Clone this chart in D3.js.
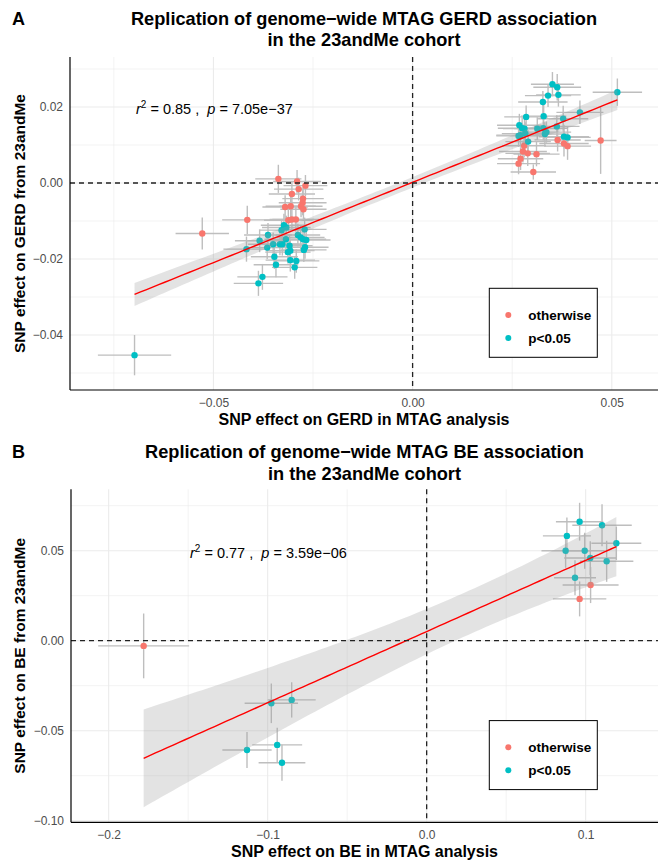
<!DOCTYPE html>
<html>
<head>
<meta charset="utf-8">
<script src="https://cdn.jsdelivr.net/npm/d3@7"></script>
<style>
  body { margin: 0; background: #fff; }
  svg { font-family: "Liberation Sans", Arial, Helvetica, sans-serif; }
  .stat { white-space: pre; }
</style>
</head>
<body>
<svg width="660" height="860"></svg>
<script>
// ---- panel A: GERD ----
// sig: 1 = p<0.05, 0 = otherwise
const gerdX = [
  -0.0337, -0.0290, -0.0269, -0.0286, -0.0303, -0.0275, -0.0276, -0.0320, -0.0306, -0.0280,
  -0.0274, -0.0415, -0.0528, -0.0312, -0.0303, -0.0293, 0.0364, 0.0472, 0.0280, 0.0277,
  0.0289, 0.0311, 0.0380, 0.0389, 0.0271, 0.0266, 0.0303,
  0.0351, 0.0363, 0.0340, 0.0366, 0.0327, 0.0329, 0.0285, 0.0514, 0.0420, 0.0378,
  0.0268, 0.0275, 0.0281, 0.0313, 0.0328, 0.0362, 0.0336, 0.0332, 0.0283, 0.0266,
  0.0271, 0.0290, 0.0380, 0.0389,
  -0.0323, -0.0317, -0.0329, -0.0363, -0.0384, -0.0417, -0.0365, -0.0350, -0.0333, -0.0327,
  -0.0318, -0.0309, -0.0307, -0.0313, -0.0347, -0.0343, -0.0307, -0.0292, -0.0296, -0.0377,
  -0.0387, -0.0288, -0.0281, -0.0275, -0.0267, -0.0271, -0.0270, -0.0273, -0.0698
];
const gerdY = [
  0.0011, 0.0004, -0.0007, -0.0016, -0.0029, -0.0041, -0.0052, -0.0063, -0.0061, -0.0061,
  -0.0069, -0.0097, -0.0133, -0.0098, -0.0096, -0.0096, 0.0113, 0.0112, 0.0098, 0.0083,
  0.0078, 0.0076, 0.0104, 0.0097, 0.0064, 0.0051, 0.0029,
  0.0260, 0.0252, 0.0230, 0.0232, 0.0213, 0.0176, 0.0174, 0.0239, 0.0186, 0.0169,
  0.0152, 0.0144, 0.0143, 0.0143, 0.0144, 0.0149, 0.0134, 0.0129, 0.0130, 0.0124,
  0.0126, 0.0109, 0.0122, 0.0120,
  -0.0111, -0.0117, -0.0124, -0.0137, -0.0152, -0.0174, -0.0170, -0.0161, -0.0161, -0.0161,
  -0.0148, -0.0165, -0.0178, -0.0182, -0.0194, -0.0215, -0.0203, -0.0205, -0.0222, -0.0247,
  -0.0264, -0.0137, -0.0143, -0.0148, -0.0150, -0.0122, -0.0169, -0.0176, -0.0453
];
const gerdXerr = [
  0.0058, 0.0060, 0.0055, 0.0062, 0.0058, 0.0052, 0.0060, 0.0057, 0.0063, 0.0054,
  0.0058, 0.0063, 0.0067, 0.0061, 0.0056, 0.0059, 0.0058, 0.0040, 0.0055, 0.0060,
  0.0056, 0.0058, 0.0062, 0.0059, 0.0057, 0.0054, 0.0057,
  0.0054, 0.0060, 0.0058, 0.0056, 0.0062, 0.0057, 0.0055, 0.0062, 0.0059, 0.0063,
  0.0056, 0.0061, 0.0054, 0.0058, 0.0060, 0.0057, 0.0062, 0.0055, 0.0059, 0.0056,
  0.0061, 0.0057, 0.0063, 0.0058,
  0.0058, 0.0061, 0.0055, 0.0060, 0.0062, 0.0058, 0.0057, 0.0063, 0.0056, 0.0060,
  0.0054, 0.0058, 0.0061, 0.0057, 0.0059, 0.0056, 0.0062, 0.0058, 0.0057, 0.0063,
  0.0062, 0.0056, 0.0060, 0.0058, 0.0061, 0.0055, 0.0059, 0.0057, 0.0092
];
const gerdYerr = [
  0.0037, 0.0030, 0.0028, 0.0030, 0.0032, 0.0030, 0.0033, 0.0031, 0.0030, 0.0029,
  0.0031, 0.0037, 0.0042, 0.0030, 0.0028, 0.0032, 0.0030, 0.0088, 0.0031, 0.0029,
  0.0033, 0.0032, 0.0034, 0.0036, 0.0030, 0.0028, 0.0020,
  0.0032, 0.0035, 0.0030, 0.0031, 0.0029, 0.0033, 0.0030, 0.0036, 0.0031, 0.0034,
  0.0030, 0.0029, 0.0031, 0.0030, 0.0032, 0.0030, 0.0028, 0.0031, 0.0030, 0.0029,
  0.0032, 0.0030, 0.0031, 0.0030,
  0.0030, 0.0031, 0.0029, 0.0032, 0.0030, 0.0033, 0.0030, 0.0031, 0.0029, 0.0030,
  0.0032, 0.0030, 0.0031, 0.0030, 0.0032, 0.0033, 0.0030, 0.0031, 0.0030, 0.0034,
  0.0033, 0.0030, 0.0031, 0.0029, 0.0030, 0.0031, 0.0030, 0.0032, 0.0053
];
const gerdSig = [
  0, 0, 0, 0, 0, 0, 0, 0, 0, 0, 0, 0, 0, 0, 0, 0, 0, 0, 0, 0, 0, 0, 0, 0, 0, 0, 0,
  1, 1, 1, 1, 1, 1, 1, 1, 1, 1, 1, 1, 1, 1, 1, 1, 1, 1, 1, 1, 1, 1, 1, 1,
  1, 1, 1, 1, 1, 1, 1, 1, 1, 1, 1, 1, 1, 1, 1, 1, 1, 1, 1, 1, 1, 1, 1, 1, 1, 1, 1, 1, 1
];
const gerdXTicks = [-0.05, 0, 0.05];
const gerdXMinor = [-0.075, -0.025, 0.025];
const gerdYTicks = [-0.04, -0.02, 0, 0.02];
const gerdYMinor = [-0.05, -0.03, -0.01, 0.01, 0.03];
const gerdStat = ["0.85", "7.05e\u221237"];

// ---- panel B: BE ----
const beX = [
  -0.178, 0.1031, 0.0962,
  -0.0977, -0.0849, -0.1130, -0.0940, -0.0910,
  0.0962, 0.1103, 0.0882, 0.1193, 0.0874, 0.0994, 0.1029, 0.1132, 0.0933
];
const beY = [
  -0.0029, 0.0309, 0.0232,
  -0.0348, -0.0329, -0.0607, -0.0579, -0.0678,
  0.0661, 0.0641, 0.0582, 0.0541, 0.0500, 0.0500, 0.0459, 0.0441, 0.0350
];
const beXerr = [
  0.0286, 0.0176, 0.0168,
  0.0168, 0.0151, 0.0155, 0.0157, 0.0147,
  0.0149, 0.0187, 0.0151, 0.0157, 0.0152, 0.0126, 0.0164, 0.0168, 0.0132
];
const beYerr = [
  0.0180, 0.0100, 0.0097,
  0.0110, 0.0098, 0.0100, 0.0095, 0.0100,
  0.0105, 0.0117, 0.0102, 0.0093, 0.0095, 0.0100, 0.0094, 0.0114, 0.0097
];
const beSig = [0, 0, 0, 1, 1, 1, 1, 1, 1, 1, 1, 1, 1, 1, 1, 1, 1];
const beXTicks = [-0.2, -0.1, 0, 0.1];
const beXMinor = [-0.15, -0.05, 0.05];
const beYTicks = [-0.1, -0.05, 0, 0.05];
const beYMinor = [-0.075, -0.025, 0.025, 0.075];
const beStat = ["0.77", "3.59e\u221206"];

const legendLabels = ["otherwise", "p<0.05"];
const colors = ["#F8766D", "#00BFC4"];

let svg = d3.select("svg");
let minus = s => s.replace(/-/g, "\u2212");

let panels = [
  {
    letter: "A",
    title: ["Replication of genome-wide MTAG GERD association", "in the 23andMe cohort"],
    xlab: "SNP effect on GERD in MTAG analysis",
    ylab: "SNP effect on GERD from 23andMe",
    xs: gerdX, ys: gerdY, xe: gerdXerr, ye: gerdYerr, sig: gerdSig,
    xTicks: gerdXTicks, xMinor: gerdXMinor, yTicks: gerdYTicks, yMinor: gerdYMinor,
    xFmt: d3.format(".2f"), yFmt: d3.format(".2f"),
    stat: gerdStat, tCrit: 1.9908,
    xDom: [-0.0860, 0.0616], yDom: [-0.05447, 0.03316],
    box: { left: 70, right: 658, top: 57, bottom: 390 },
    statX: 136, statY: 113.5, top: 0
  },
  {
    letter: "B",
    title: ["Replication of genome-wide MTAG BE association", "in the 23andMe cohort"],
    xlab: "SNP effect on BE in MTAG analysis",
    ylab: "SNP effect on BE from 23andMe",
    xs: beX, ys: beY, xe: beXerr, ye: beYerr, sig: beSig,
    xTicks: beXTicks, xMinor: beXMinor, yTicks: beYTicks, yMinor: beYMinor,
    xFmt: d3.format(".1f"), yFmt: d3.format(".2f"),
    stat: beStat, tCrit: 2.1314,
    xDom: [-0.2237, 0.1455], yDom: [-0.1009, 0.0841],
    box: { left: 71, right: 658, top: 489.3, bottom: 822.3 },
    statX: 190, statY: 558, top: 433.5
  }
];

// ordinary least squares with confidence band, like geom_smooth(method = "lm")
let fitLm = (xs, ys, tCrit) => {
  let n = xs.length;
  let mx = d3.mean(xs), my = d3.mean(ys);
  let sxx = d3.sum(xs, x => (x - mx) ** 2);
  let sxy = d3.sum(xs, (x, i) => (x - mx) * (ys[i] - my));
  let b = sxy / sxx, a = my - b * mx;
  let s2 = d3.sum(xs, (x, i) => (ys[i] - a - b * x) ** 2) / (n - 2);
  let [x0, x1] = d3.extent(xs);
  return d3.range(81).map(k => {
    let x = x0 + (x1 - x0) * k / 80;
    let fit = a + b * x;
    let se = Math.sqrt(s2 * (1 / n + (x - mx) ** 2 / sxx));
    return { x: x, y: fit, lo: fit - tCrit * se, hi: fit + tCrit * se };
  });
};

for (let p of panels) {
  let b = p.box;
  let x = d3.scaleLinear().domain(p.xDom).range([b.left, b.right]);
  let y = d3.scaleLinear().domain(p.yDom).range([b.bottom, b.top]);
  let g = svg.append("g");
  let cx = (b.left + b.right) / 2;

  // letter + title
  g.append("text").attr("x", 12).attr("y", p.top + 24.5)
    .attr("font-size", 18).attr("font-weight", "bold").text(p.letter);
  p.title.forEach((t, i) => {
    g.append("text").attr("x", cx).attr("y", p.top + 24.5 + i * 21.5)
      .attr("text-anchor", "middle").attr("font-size", 18.2).attr("font-weight", "bold")
      .text(minus(t));
  });

  // grid
  let grid = g.append("g");
  grid.selectAll(".vmin").data(p.xMinor).enter().append("line")
    .attr("x1", d => x(d)).attr("x2", d => x(d)).attr("y1", b.top).attr("y2", b.bottom)
    .attr("stroke", "#EBEBEB").attr("stroke-width", 0.6);
  grid.selectAll(".hmin").data(p.yMinor).enter().append("line")
    .attr("x1", b.left).attr("x2", b.right).attr("y1", d => y(d)).attr("y2", d => y(d))
    .attr("stroke", "#EBEBEB").attr("stroke-width", 0.6);
  grid.selectAll(".vmaj").data(p.xTicks).enter().append("line")
    .attr("x1", d => x(d)).attr("x2", d => x(d)).attr("y1", b.top).attr("y2", b.bottom)
    .attr("stroke", "#EBEBEB").attr("stroke-width", 1.1);
  grid.selectAll(".hmaj").data(p.yTicks).enter().append("line")
    .attr("x1", b.left).attr("x2", b.right).attr("y1", d => y(d)).attr("y2", d => y(d))
    .attr("stroke", "#EBEBEB").attr("stroke-width", 1.1);

  let pts = p.xs.map((v, i) => ({ x: v, y: p.ys[i], xe: p.xe[i], ye: p.ye[i], sig: p.sig[i] }));

  // error bars
  let bars = g.append("g").attr("stroke", "#BEBEBE").attr("stroke-width", 1.4);
  bars.selectAll(".h").data(pts).enter().append("line")
    .attr("x1", d => x(d.x - d.xe)).attr("x2", d => x(d.x + d.xe))
    .attr("y1", d => y(d.y)).attr("y2", d => y(d.y));
  bars.selectAll(".v").data(pts).enter().append("line")
    .attr("x1", d => x(d.x)).attr("x2", d => x(d.x))
    .attr("y1", d => y(d.y - d.ye)).attr("y2", d => y(d.y + d.ye));

  // points
  g.append("g").selectAll("circle").data(pts).enter().append("circle")
    .attr("cx", d => x(d.x)).attr("cy", d => y(d.y)).attr("r", 3.2)
    .attr("fill", d => colors[d.sig]);

  // fitted line and band
  let fit = fitLm(p.xs, p.ys, p.tCrit);
  g.append("path").datum(fit)
    .attr("d", d3.area().x(d => x(d.x)).y0(d => y(d.lo)).y1(d => y(d.hi)))
    .attr("fill", "#999999").attr("fill-opacity", 0.28);
  g.append("path").datum(fit)
    .attr("d", d3.line().x(d => x(d.x)).y(d => y(d.y)))
    .attr("fill", "none").attr("stroke", "#FF0000").attr("stroke-width", 1.4);

  // reference lines at zero
  g.append("line").attr("x1", b.left).attr("x2", b.right).attr("y1", y(0)).attr("y2", y(0))
    .attr("stroke", "#222").attr("stroke-width", 1.3).attr("stroke-dasharray", "5,4");
  g.append("line").attr("x1", x(0)).attr("x2", x(0)).attr("y1", b.top).attr("y2", b.bottom)
    .attr("stroke", "#222").attr("stroke-width", 1.3).attr("stroke-dasharray", "5,4");

  // axes
  let xAxis = g.append("g").attr("transform", `translate(0,${b.bottom})`)
    .call(d3.axisBottom(x).tickValues(p.xTicks).tickFormat(d => minus(p.xFmt(d)))
      .tickSize(0).tickSizeOuter(0).tickPadding(8));
  let yAxis = g.append("g").attr("transform", `translate(${b.left},0)`)
    .call(d3.axisLeft(y).tickValues(p.yTicks).tickFormat(d => minus(p.yFmt(d)))
      .tickSize(0).tickSizeOuter(0).tickPadding(7));
  for (let ax of [xAxis, yAxis]) {
    ax.select(".domain").attr("stroke", "#000").attr("stroke-width", 1.2);
    ax.selectAll("text").attr("font-size", 12).attr("fill", "#4D4D4D")
      .attr("font-family", "'Liberation Sans', Arial, sans-serif");
  }
  xAxis.select(".domain").attr("d", `M${b.left},0H${b.right}`);
  yAxis.select(".domain").attr("d", `M0,${b.top}V${b.bottom}`);

  g.append("text").attr("x", cx).attr("y", b.bottom + 35)
    .attr("text-anchor", "middle").attr("font-size", 16).attr("font-weight", "bold")
    .text(p.xlab);
  g.append("text")
    .attr("transform", `translate(25,${(b.top + b.bottom) / 2}) rotate(-90)`)
    .attr("text-anchor", "middle").attr("font-size", 15.5).attr("font-weight", "bold")
    .text(p.ylab);

  // r^2 / p annotation
  let st = g.append("text").attr("class", "stat").attr("x", p.statX).attr("y", p.statY)
    .attr("font-size", 14.5);
  st.append("tspan").attr("font-style", "italic").text("r");
  st.append("tspan").attr("font-size", 10).attr("dy", -6).text("2");
  st.append("tspan").attr("dy", 6).text(` = ${p.stat[0]} ,  `);
  st.append("tspan").attr("font-style", "italic").text("p");
  st.append("tspan").text(` = ${p.stat[1]}`);

  // legend
  let lg = g.append("g").attr("transform", `translate(${b.right - 168.7},${b.bottom - 101.7})`);
  lg.append("rect").attr("width", 108).attr("height", 69)
    .attr("fill", "#fff").attr("stroke", "#000").attr("stroke-width", 1);
  legendLabels.forEach((lab, i) => {
    lg.append("circle").attr("cx", 19).attr("cy", 26.7 + i * 23).attr("r", 3)
      .attr("fill", colors[i]);
    lg.append("text").attr("x", 39).attr("y", 26.7 + i * 23).attr("dy", "0.35em")
      .attr("font-size", 13.5).attr("font-weight", "bold").text(lab);
  });
}
</script>
</body>
</html>
